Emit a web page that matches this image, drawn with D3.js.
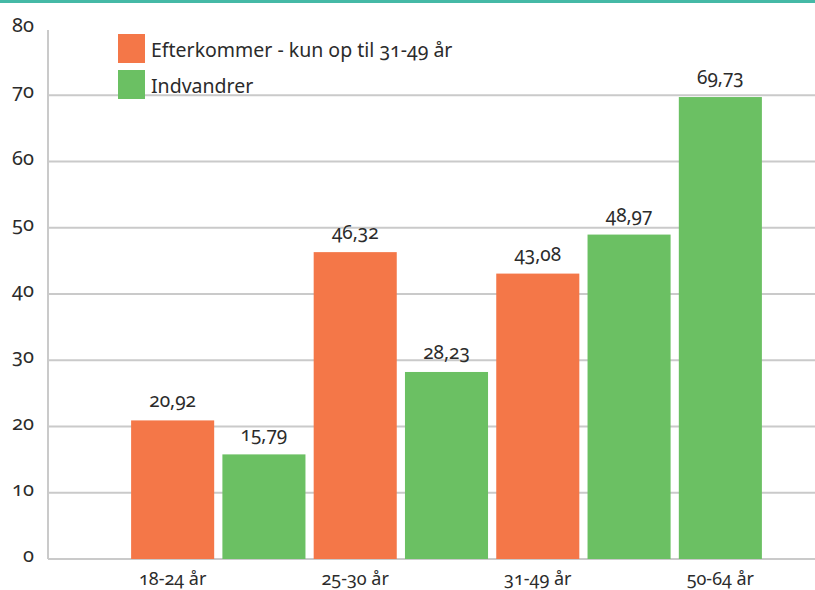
<!DOCTYPE html>
<html>
<head>
<meta charset="utf-8">
<script src="https://cdn.jsdelivr.net/npm/d3@7"></script>
<style>
  body { margin: 0; background: #fff; }
  svg { display: block; font-family: "Noto Sans", sans-serif; font-variant-numeric: oldstyle-nums; fill: #2b2b2b; }
</style>
</head>
<body>
<div id="chart"></div>
<script>
const categories = ['18-24 år', '25-30 år', '31-49 år', '50-64 år'];
const efterkommer = [20.92, 46.32, 43.08, null];
const indvandrer = [15.79, 28.23, 48.97, 69.73];
const seriesNames = ['Efterkommer - kun op til 31-49 år', 'Indvandrer'];
const seriesColors = ['#f47748', '#6bc063'];
const yTicks = [0, 10, 20, 30, 40, 50, 60, 70, 80];

const width = 815, height = 590;
const svg = d3.select('#chart').append('svg').attr('width', width).attr('height', height);

// teal rule at the top
svg.append('rect').attr('x', 0).attr('y', 0).attr('width', width).attr('height', 3).style('fill', '#45b9a6');

// one slot per existing bar, groups laid out one after another
const bars = [];
categories.forEach((c, i) => {
    [efterkommer[i], indvandrer[i]].forEach((v, s) => {
        if (v !== null) bars.push({ cat: c, series: s, value: v, slot: bars.length });
    });
});

const x = d3.scaleBand().domain(bars.map(d => d.slot)).range([127, 766]).paddingInner(0.09).paddingOuter(0.045);
const y = d3.scaleLinear().domain([0, 80]).range([559, 29]);

const axisLeft = 48, plotRight = width;

// gridlines
svg.append('g').selectAll('line').data(yTicks.filter(t => t > 0 && t < 80)).enter().append('line')
    .attr('x1', axisLeft).attr('x2', plotRight)
    .attr('y1', d => y(d)).attr('y2', d => y(d))
    .style('stroke', '#cacaca').style('stroke-width', 2);

// axes lines
svg.append('line').attr('x1', axisLeft).attr('x2', axisLeft).attr('y1', y(80) + 1).attr('y2', y(0))
    .style('stroke', '#cacaca').style('stroke-width', 2);
svg.append('line').attr('x1', axisLeft).attr('x2', plotRight).attr('y1', y(0)).attr('y2', y(0))
    .style('stroke', '#cacaca').style('stroke-width', 2);

// y tick labels
svg.append('g').selectAll('text').data(yTicks).enter().append('text')
    .attr('x', 34).attr('y', d => y(d) + 3)
    .attr('text-anchor', 'end')
    .style('font-size', '20px')
    .text(d => d);

// bars
svg.append('g').selectAll('rect').data(bars).enter().append('rect')
    .attr('x', d => x(d.slot))
    .attr('y', d => y(d.value))
    .attr('width', x.bandwidth())
    .attr('height', d => y(0) - y(d.value))
    .style('fill', d => seriesColors[d.series]);

// value labels
svg.append('g').selectAll('text').data(bars).enter().append('text')
    .attr('x', d => x(d.slot) + x.bandwidth() / 2)
    .attr('y', d => y(d.value) - 13)
    .attr('text-anchor', 'middle')
    .style('font-size', '19px')
    .text(d => d.value.toFixed(2).replace('.', ','));

// category labels under the first bar of each group
const firstBars = categories.map(c => bars.find(b => b.cat === c));
svg.append('g').selectAll('text').data(firstBars).enter().append('text')
    .attr('x', d => x(d.slot) + x.bandwidth() / 2)
    .attr('y', 585)
    .attr('text-anchor', 'middle')
    .style('font-size', '18px')
    .text(d => d.cat);

// legend
const legend = svg.append('g').selectAll('g').data(seriesNames).enter().append('g')
    .attr('transform', (d, i) => `translate(118, ${34 + i * 36})`);
legend.append('rect').attr('width', 27).attr('height', 29).style('fill', (d, i) => seriesColors[i]);
legend.append('text').attr('x', 33).attr('y', 23).style('font-size', '19.5px').text(d => d);
</script>
</body>
</html>
